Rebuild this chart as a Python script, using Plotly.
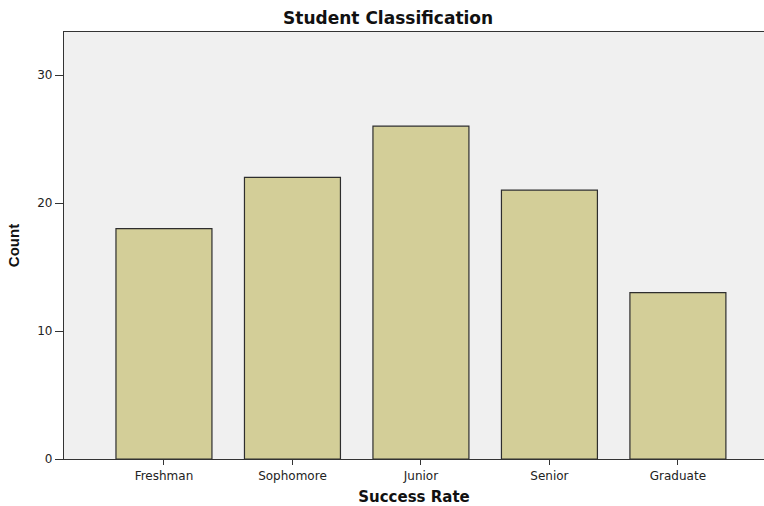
import plotly.graph_objects as go

# Student counts by classification
categories = ["Freshman", "Sophomore", "Junior", "Senior", "Graduate"]
counts = [18, 22, 26, 21, 13]
y_ticks = [0, 10, 20, 30]

fig = go.Figure()
fig.add_trace(go.Bar(
    x=categories,
    y=counts,
    width=0.747,
    marker=dict(color="#d3ce98", line=dict(color="#2e2e2e", width=1.2)),
))

wide_font = "DejaVu Sans, Verdana, sans-serif"
narrow_font = "Liberation Sans, Arial, sans-serif"

fig.update_layout(
    width=764,
    height=506,
    margin=dict(l=64, r=0, t=32, b=47),
    paper_bgcolor="white",
    plot_bgcolor="#f0f0f0",
    showlegend=False,
    title=dict(
        text="<b>Student Classification</b>",
        x=0.508, xanchor="center",
        y=0.964, yanchor="middle",
        font=dict(family=wide_font, size=17, color="#111"),
    ),
    xaxis=dict(
        range=[-0.778, 4.67],
        showgrid=False,
        showline=True, linecolor="#333", linewidth=1.2,
        mirror=True,
        ticks="outside", ticklen=5, tickcolor="#333", tickwidth=1,
        tickfont=dict(family=wide_font, size=12, color="#222"),
        title=dict(text="<b>Success Rate</b>", standoff=12,
                   font=dict(family=wide_font, size=15, color="#111")),
    ),
    yaxis=dict(
        range=[0, 33.36],
        tickvals=y_ticks,
        showgrid=False,
        zeroline=False,
        showline=True, linecolor="#333", linewidth=1.2,
        ticks="outside", ticklen=8, tickcolor="#333", tickwidth=1,
        tickfont=dict(family=wide_font, size=12, color="#222"),
        title=dict(text="<b>Count</b>", standoff=13,
                   font=dict(family=narrow_font, size=15, color="#111")),
    ),
)

fig.write_html("out.html")
